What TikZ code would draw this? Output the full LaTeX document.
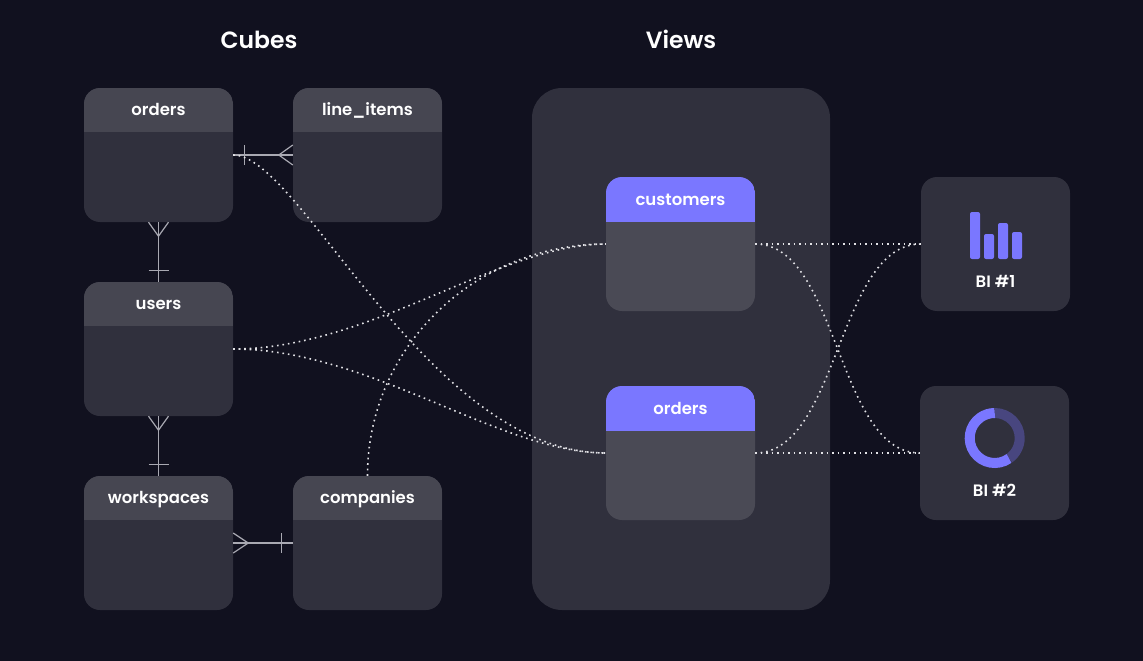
\documentclass[tikz,border=0pt]{standalone}
\usepackage{fontspec}
\setmainfont{Poppins}[BoldFont={Poppins SemiBold}]
\usepackage{tikz}
\usetikzlibrary{calc}
\definecolor{bgdark}{HTML}{11111F}
\definecolor{panel}{HTML}{30303D}
\definecolor{headgrey}{HTML}{464651}
\definecolor{bodygrey}{HTML}{4A4A55}
\definecolor{violet}{HTML}{7A77FF}
\definecolor{dimviolet}{HTML}{48467F}
\definecolor{wire}{HTML}{A9A9B2}
\definecolor{dots}{HTML}{E2E2E6}
\tikzset{
  card/.style={minimum width=149pt,minimum height=134pt,inner sep=0pt,
    rounded corners=16pt,fill=panel},
  cubecard/.style={card,path picture={\fill[headgrey,sharp corners]
    (path picture bounding box.north west) rectangle
    ([yshift=-44pt]path picture bounding box.north east);}},
  viewcard/.style={card,fill=bodygrey,path picture={\fill[violet,sharp corners]
    (path picture bounding box.north west) rectangle
    ([yshift=-45pt]path picture bounding box.north east);}},
  headtext/.style={text=white,anchor=base,font=\fontsize{16.5}{20}\selectfont\bfseries,inner sep=0pt},
  titletext/.style={text=white,anchor=base,font=\fontsize{23.5}{30}\selectfont\bfseries,inner sep=0pt},
  erline/.style={wire,line width=1.2pt},
  dotline/.style={dots,line width=1.6pt,dash pattern=on 1.6pt off 3.9pt},
  chartbar/.style={violet,rounded corners=2pt}
}

\begin{document}
\begin{tikzpicture}[x=1pt,y=-1pt]

\fill[bgdark] (0,0) rectangle (1143,661);
\useasboundingbox (0,0) rectangle (1143,661);

% Titles
\node[titletext] (cubes title) at (259,48.3){Cubes};
\node[titletext] (views title) at (681,48.3){Views};

% Views panel
\node[fill=panel,minimum width=298pt,minimum height=522pt,inner sep=0pt,
  rounded corners=30pt] (views panel) at (681,349){};

% Cube tables
\node[cubecard] (orders) at (158.5,155){};
\node[headtext] (orders head) at ([yshift=-28pt]orders.north){orders};
\node[cubecard] (lineitems) at (367.5,155){};
\node[headtext] (lineitems head) at ([yshift=-28pt]lineitems.north){line\_items};
\node[cubecard] (users) at (158.5,349){};
\node[headtext] (users head) at ([yshift=-28pt]users.north){users};
\node[cubecard] (workspaces) at (158.5,543){};
\node[headtext] (workspaces head) at ([yshift=-28pt]workspaces.north){workspaces};
\node[cubecard] (companies) at (367.5,543){};
\node[headtext] (companies head) at ([yshift=-28pt]companies.north){companies};

% View tables
\node[viewcard] (customers view) at (680.5,244){};
\node[headtext] (customers head) at ([yshift=-28.5pt]customers view.north){customers};
\node[viewcard] (orders view) at (680.5,453){};
\node[headtext] (ordersv head) at ([yshift=-28.5pt]orders view.north){orders};

% BI tools
\node[card] (bi one) at (995.5,244){};
\node[headtext] (bi one text) at (995.5,287){BI \#1};
\node[card] (bi two) at (994.5,453){};
\node[headtext] (bi two text) at (994.5,496){BI \#2};

% Bar chart
\fill[chartbar] (970,212) rectangle (980,259);
\fill[chartbar] (984,234) rectangle (994,259);
\fill[chartbar] (998,223) rectangle (1008,259);
\fill[chartbar] (1012,232) rectangle (1022,259);

% Donut chart
\coordinate (donut) at (994.7,438);
\draw[dimviolet,line width=10pt] ($(donut)+(90:25pt)$) arc (90:-55:25pt);
\draw[violet,line width=10pt] ($(donut)+(-55:25pt)$) arc (-55:-270:25pt);

% orders to line_items
\draw[erline] (orders.east)--(lineitems.west);
\draw[erline] ([xshift=11pt,yshift=10pt]orders.east)--([xshift=11pt,yshift=-10pt]orders.east);
\draw[erline] ([yshift=10pt]lineitems.west)--([xshift=-14pt]lineitems.west)--([yshift=-10pt]lineitems.west);

% orders to users
\draw[erline] (orders.south)--(users.north);
\draw[erline] ([xshift=-10pt]orders.south)--([yshift=-14pt]orders.south)--([xshift=10pt]orders.south);
\draw[erline] ([xshift=-10pt,yshift=11pt]users.north)--([xshift=10pt,yshift=11pt]users.north);

% users to workspaces
\draw[erline] (users.south)--(workspaces.north);
\draw[erline] ([xshift=-10pt]users.south)--([yshift=-14pt]users.south)--([xshift=10pt]users.south);
\draw[erline] ([xshift=-10pt,yshift=11pt]workspaces.north)--([xshift=10pt,yshift=11pt]workspaces.north);

% workspaces to companies
\draw[erline] (workspaces.east)--(companies.west);
\draw[erline] ([yshift=10pt]workspaces.east)--([xshift=15pt]workspaces.east)--([yshift=-10pt]workspaces.east);
\draw[erline] ([xshift=-11pt,yshift=10pt]companies.west)--([xshift=-11pt,yshift=-10pt]companies.west);

% Cubes to views
\draw[dotline] (orders.east) .. controls +(67,0) and +(-178,0) .. (orders view.west);
\draw[dotline] (users.east) .. controls +(137,0) and +(-106,0) .. (customers view.west);
\draw[dotline] (users.east) .. controls +(137,0) and +(-106,0) .. (orders view.west);
\draw[dotline] (companies.north) to[out=90,in=180] (customers view.west);

% Views to BI tools
\draw[dotline] (customers view.east)--(bi one.west);
\draw[dotline] (orders view.east)--(bi two.west);
\draw[dotline] (customers view.east) .. controls +(83,0) and +(-83,0) .. (bi two.west);
\draw[dotline] (orders view.east) .. controls +(83,0) and +(-83,0) .. (bi one.west);

\end{tikzpicture}
\end{document}
